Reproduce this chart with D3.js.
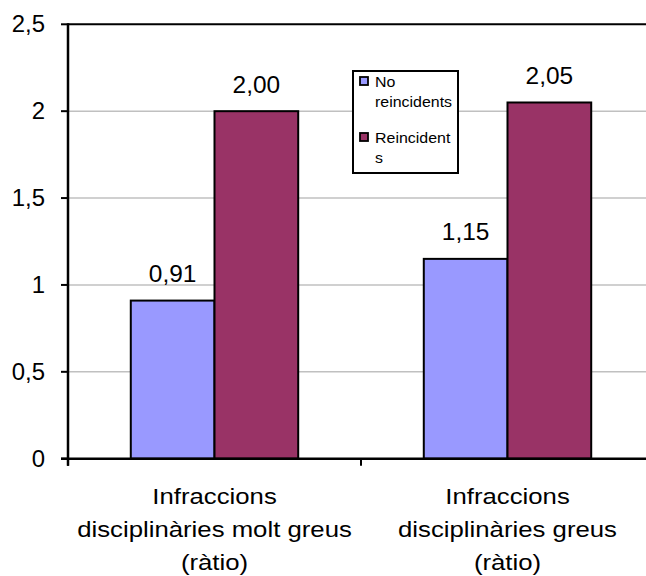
<!DOCTYPE html>
<html>
<head>
<meta charset="utf-8">
<script src="https://cdn.jsdelivr.net/npm/d3@7"></script>
<style>
  body { margin: 0; background: #fff; }
  svg { display: block; }
  text { font-family: "Liberation Sans", Arial, sans-serif; fill: #000; }
</style>
</head>
<body>
<svg id="chart" width="646" height="576"></svg>
<script>
// ---- data ----
const categories = ["Infraccions disciplinàries molt greus (ràtio)", "Infraccions disciplinàries greus (ràtio)"];
const categoryLines = [
  ["Infraccions", "disciplinàries molt greus", "(ràtio)"],
  ["Infraccions", "disciplinàries greus", "(ràtio)"]
];
const seriesNames = ["No reincidents", "Reincidents"];
const legendLines = [["No", "reincidents"], ["Reincident", "s"]];
const noReincidents = [0.91, 1.15];
const reincidents = [2.00, 2.05];
const seriesColors = ["#9999FF", "#993366"];
const yTicks = [0, 0.5, 1, 1.5, 2, 2.5];
const yTickLabels = ["0", "0,5", "1", "1,5", "2", "2,5"];

// ---- layout ----
const svg = d3.select("#chart");
const plot = { left: 68, right: 654, top: 24.3, bottom: 458.7 };

const y = d3.scaleLinear().domain([0, 2.5]).range([plot.bottom, plot.top]);
const x0 = d3.scaleBand().domain(categories).range([plot.left, plot.right]).padding(0);
const x1 = d3.scaleBand().domain(seriesNames).range([0, x0.bandwidth()])
  .paddingInner(0).paddingOuter(0.75);

const fmt = v => d3.format(".2f")(v).replace(".", ",");

// text helper with a slight horizontal stretch
function label(parent, x, yPos, str, size, anchor, sx) {
  parent.append("g")
    .attr("transform", `translate(${x},${yPos})`)
    .append("text")
    .attr("transform", `scale(${sx},1)`)
    .attr("text-anchor", anchor)
    .style("font-size", size + "px")
    .text(str);
}

// ---- gridlines ----
svg.append("g").selectAll("line")
  .data(yTicks.filter(t => t > 0 && t < 2.5))
  .join("line")
  .attr("x1", plot.left).attr("x2", plot.right)
  .attr("y1", d => y(d)).attr("y2", d => y(d))
  .attr("stroke", "#c0c0c0").attr("stroke-width", 1.6);

// ---- bars ----
const rows = categories.map((c, i) => ({ cat: c, vals: [noReincidents[i], reincidents[i]] }));
const groups = svg.append("g").selectAll("g")
  .data(rows).join("g")
  .attr("transform", d => `translate(${x0(d.cat)},0)`);

groups.selectAll("rect")
  .data(d => d.vals.map((v, j) => ({ s: seriesNames[j], v, j })))
  .join("rect")
  .attr("x", d => x1(d.s))
  .attr("width", x1.bandwidth())
  .attr("y", d => y(d.v))
  .attr("height", d => y(0) - y(d.v))
  .attr("fill", d => seriesColors[d.j])
  .attr("stroke", "#000").attr("stroke-width", 2);

// value labels
rows.forEach(r => {
  r.vals.forEach((v, j) => {
    const cx = x0(r.cat) + x1(seriesNames[j]) + x1.bandwidth() / 2;
    label(svg, cx, y(v) - 18.5, fmt(v), 23.5, "middle", 1.04);
  });
});

// ---- axes / frame ----
svg.append("line")
  .attr("x1", plot.left).attr("x2", plot.right)
  .attr("y1", plot.top).attr("y2", plot.top)
  .attr("stroke", "#000").attr("stroke-width", 2);
svg.append("line")
  .attr("x1", plot.left).attr("x2", plot.left)
  .attr("y1", plot.top - 1).attr("y2", plot.bottom + 7)
  .attr("stroke", "#000").attr("stroke-width", 2.5);
svg.append("line")
  .attr("x1", plot.left - 7).attr("x2", plot.right)
  .attr("y1", plot.bottom).attr("y2", plot.bottom)
  .attr("stroke", "#000").attr("stroke-width", 2.5);

// y ticks
svg.append("g").selectAll("line")
  .data(yTicks).join("line")
  .attr("x1", plot.left - 7).attr("x2", plot.left)
  .attr("y1", d => y(d)).attr("y2", d => y(d))
  .attr("stroke", "#000").attr("stroke-width", 2);
yTicks.forEach((t, i) => {
  label(svg, 45, y(t) + 8, yTickLabels[i], 23, "end", 1.04);
});

// category ticks
const catEdges = categories.map(c => x0(c)).concat([plot.right]);
svg.append("g").selectAll("line")
  .data(catEdges).join("line")
  .attr("x1", d => d).attr("x2", d => d)
  .attr("y1", plot.bottom).attr("y2", plot.bottom + 7)
  .attr("stroke", "#000").attr("stroke-width", 2);

// category labels
const lineBase = [504, 537, 570];
categories.forEach((c, i) => {
  const cx = x0(c) + x0.bandwidth() / 2;
  categoryLines[i].forEach((ln, k) => label(svg, cx, lineBase[k], ln, 23, "middle", 1.12));
});

// ---- legend ----
const lg = svg.append("g");
lg.append("rect")
  .attr("x", 353).attr("y", 71).attr("width", 105).attr("height", 102)
  .attr("fill", "#fff").attr("stroke", "#000").attr("stroke-width", 2);
const legendTop = [77, 133];
seriesNames.forEach((s, i) => {
  lg.append("rect")
    .attr("x", 360).attr("y", legendTop[i]).attr("width", 8).attr("height", 8)
    .attr("fill", seriesColors[i]).attr("stroke", "#000").attr("stroke-width", 1.8);
  legendLines[i].forEach((ln, k) => {
    label(lg, 375, legendTop[i] + 10 + k * 19.5, ln, 14.5, "start", 1.1);
  });
});
</script>
</body>
</html>
